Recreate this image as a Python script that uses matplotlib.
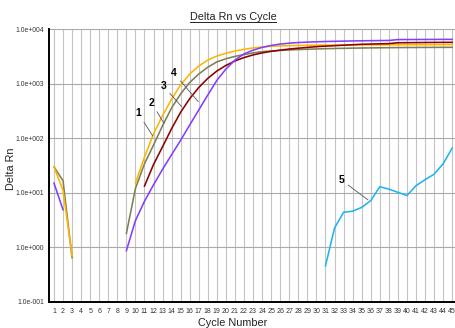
import numpy as np
import matplotlib
matplotlib.use("Agg")
import matplotlib.pyplot as plt
from matplotlib.lines import Line2D

plt.rcParams['font.family'] = ['Liberation Sans', 'DejaVu Sans']

N = None
cycles = list(range(1, 46))

# Series 1 (gold)
s1 = [30, 11, 0.7, N, N, N, N, N, N, 15,
      45, 120, 260, 520, 950, 1500, 2100, 2700, 3200, 3600,
      3950, 4250, 4500, 4700, 4820, 4900, 4950, 5000, 5030, 5050,
      5070, 5080, 5090, 5100, 5110, 5120, 5130, 5140, 5150, 5150,
      5160, 5160, 5170, 5170, 5180]
# Series 2 (olive)
s2 = [30, 16.6, 0.65, N, N, N, N, N, 1.8, 12,
      34, 75, 170, 360, 650, 1050, 1500, 2000, 2500, 2850,
      3150, 3400, 3650, 3850, 3950, 4050, 4130, 4200, 4260, 4310,
      4360, 4400, 4430, 4460, 4490, 4510, 4530, 4550, 4570, 4580,
      4590, 4600, 4610, 4615, 4620]
# Series 3 (dark red)
s3 = [N, N, N, N, N, N, N, N, N, N,
      13.3, 33, 70, 150, 300, 530, 850, 1250, 1700, 2150,
      2600, 3000, 3350, 3650, 3900, 4100, 4300, 4450, 4600, 4750,
      4850, 4950, 5050, 5150, 5250, 5300, 5350, 5400, 5600, 5620,
      5640, 5660, 5680, 5690, 5700]
# Series 4 (purple)
s4 = [15, 4.9, N, N, N, N, N, N, 0.87, 3.1,
      7, 14, 27, 50, 92, 175, 330, 620, 1150, 1850,
      2700, 3500, 4100, 4600, 5000, 5300, 5500, 5650, 5750, 5830,
      5900, 5950, 6000, 6040, 6080, 6110, 6140, 6170, 6400, 6410,
      6420, 6430, 6440, 6450, 6460]
# Series 5 (light blue)
s5 = [N] * 30 + [0.46, 2.27, 4.4, 4.6, 5.4, 7.2, 12.9, 11.7, 10.2, 8.9,
                 13.5, 17.4, 21.9, 34, 66]

series = [
    ("2", s2, "#7f7f55"),
    ("1", s1, "#ffb400"),
    ("3", s3, "#8b0000"),
    ("4", s4, "#8040ff"),
    ("5", s5, "#1eb4f0"),
]

yticks = [1e-1, 1e0, 1e1, 1e2, 1e3, 1e4]
ytick_labels = ["1.0e-001", "1.0e+000", "1.0e+001", "1.0e+002", "1.0e+003", "1.0e+004"]

W, H = 456, 328
fig = plt.figure(figsize=(W / 100, H / 100), dpi=100)
ax = fig.add_axes([49 / W, (H - 302) / H, (W - 49) / W, (302 - 29) / H])

for name, vals, col in series:
    y = np.array([np.nan if v is None else v for v in vals], dtype=float)
    ax.plot(cycles, y, color=col, lw=1.15, solid_joinstyle='miter', zorder=3)

ax.set_yscale('log')
ax.set_ylim(1e-1, 1e4)
ax.set_xlim(0.45, 45.42)
ax.set_yticks(yticks)
ax.set_yticklabels(ytick_labels)
ax.yaxis.set_minor_locator(matplotlib.ticker.NullLocator())
ax.set_xticks(cycles)
ax.set_xticklabels([str(c) for c in cycles])
ax.tick_params(axis='y', length=0, pad=3.5, labelsize=4.9, labelcolor='#333333')
ax.tick_params(axis='x', length=0, pad=4.6, labelsize=5.0, labelcolor='#333333')

for c in cycles:
    ax.axvline(c, color='#c4c4c4', lw=0.8, zorder=1)
for yv in yticks:
    ax.axhline(yv, color='#aaaaaa', lw=0.8, zorder=1)

for sp in ['top', 'right']:
    ax.spines[sp].set_visible(False)
for sp in ['left', 'bottom']:
    ax.spines[sp].set_linewidth(1.4)
    ax.spines[sp].set_color('black')

# Curve labels
labels = [
    ("1", 11.906, 110, -14.4, 22.7),
    ("2", 13.15, 187, -12.3, 20.6),
    ("3", 15.11, 378, -18.4, 20.7),
    ("4", 16.94, 467, -24.3, 28.4),
    ("5", 35.7, 7.4, -26.7, 20.0),
]
for t, cx, cy, dx, dy in labels:
    ax.annotate(t, xy=(cx, cy), xytext=(dx, dy), textcoords='offset pixels',
                ha='center', va='center', fontsize=7.5, fontweight='bold',
                arrowprops=dict(arrowstyle='-', color='#555555', lw=0.6,
                                shrinkA=1, shrinkB=0), zorder=5)

title = fig.text(233 / W, 1 - 20 / H, "Delta Rn vs Cycle", ha='center', va='baseline',
                 fontsize=7.8, color='#222222')
fig.text(233 / W, 2 / H, "Cycle Number", ha='center', va='baseline', fontsize=7.8,
         color='#222222')
fig.text(11 / W, 1 - 169 / H, "Delta Rn", ha='center', va='center', rotation=90,
         fontsize=7.8, color='#222222')

fig.canvas.draw()
bb = title.get_window_extent()
uy = 1 - 22 / H
fig.add_artist(Line2D([bb.x0 / W, bb.x1 / W], [uy, uy], transform=fig.transFigure,
                      color='#222222', lw=0.7))

fig.savefig("out.png", dpi=100, facecolor='white')
